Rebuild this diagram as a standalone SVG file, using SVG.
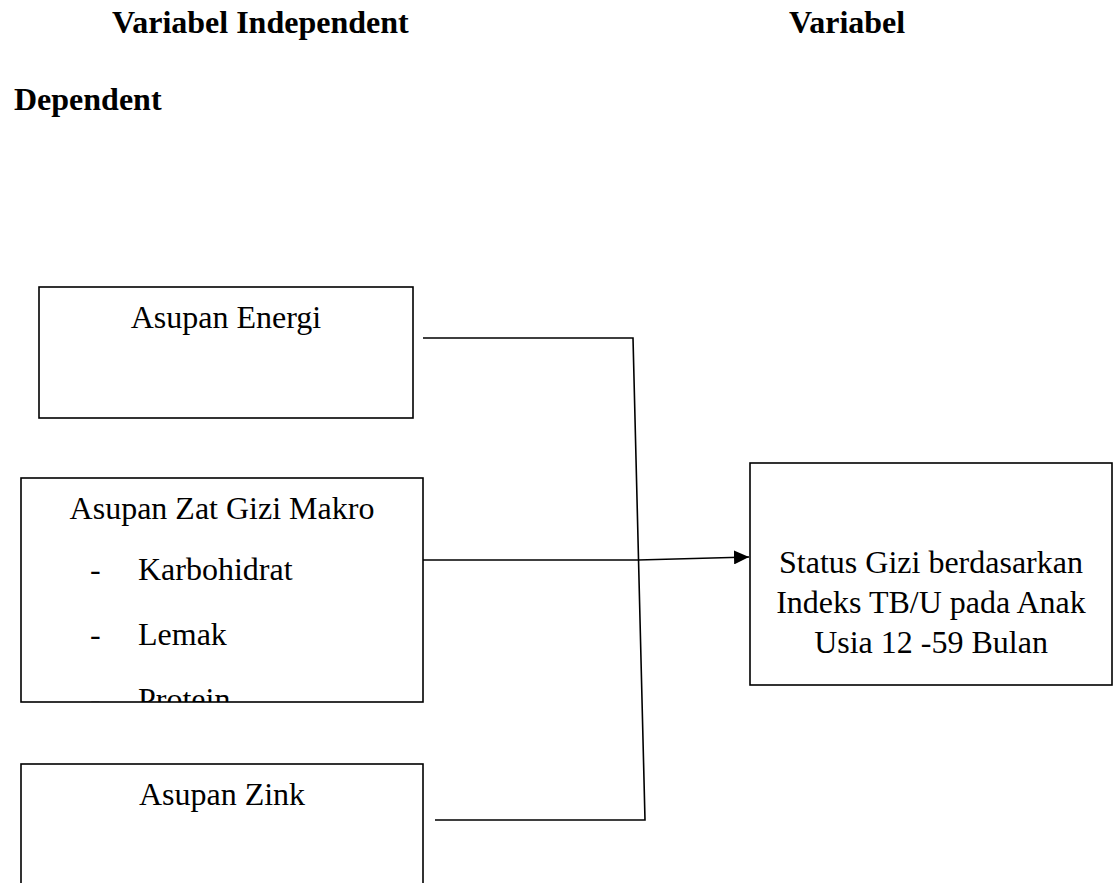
<svg xmlns="http://www.w3.org/2000/svg" width="1117" height="883" viewBox="0 0 1117 883">
<style>
text{font-family:"Liberation Serif","Times New Roman",serif;font-size:32px;fill:#000}
.h{font-weight:bold}
.box{fill:#fff;stroke:#000;stroke-width:1.6}
.ln{fill:none;stroke:#000;stroke-width:1.6}
</style>
<defs>
<marker id="arr" markerWidth="15" markerHeight="14" refX="15" refY="7" orient="auto" markerUnits="userSpaceOnUse">
<path d="M0,0 L15,7 L0,14 Z" fill="#000"/>
</marker>
<clipPath id="c2"><rect x="21" y="478" width="402" height="224"/></clipPath>
</defs>
<rect width="1117" height="883" fill="#fff"/>
<g id="headers">
<text class="h" x="112" y="33">Variabel Independent</text>
<text class="h" x="789" y="33">Variabel</text>
<text class="h" x="14" y="110">Dependent</text>
</g>
<g id="connectors">
<polyline class="ln" points="423,338 633,338 645,820 435,820"/>
<line class="ln" x1="423" y1="560" x2="638" y2="560"/>
<line class="ln" x1="638" y1="560" x2="749" y2="557" stroke-width="2.2" marker-end="url(#arr)"/>
</g>
<g id="n-energi">
<rect class="box" x="39" y="287" width="374" height="131"/>
<text x="226" y="328" text-anchor="middle">Asupan Energi</text>
</g>
<g id="n-makro">
<rect class="box" x="21" y="478" width="402" height="224"/>
<g clip-path="url(#c2)">
<text x="222" y="519" text-anchor="middle">Asupan Zat Gizi Makro</text>
<text x="90" y="580">-</text><text x="138" y="580">Karbohidrat</text>
<text x="90" y="645">-</text><text x="138" y="645">Lemak</text>
<text x="90" y="710">-</text><text x="138" y="710">Protein</text>
</g>
</g>
<g id="n-zink">
<rect class="box" x="21" y="764" width="402" height="130"/>
<text x="222" y="805" text-anchor="middle">Asupan Zink</text>
</g>
<g id="n-status">
<rect class="box" x="750" y="463" width="362" height="222"/>
<text x="931" y="573" text-anchor="middle">Status Gizi berdasarkan</text>
<text x="931" y="613" text-anchor="middle">Indeks TB/U pada Anak</text>
<text x="931" y="653" text-anchor="middle">Usia 12 -59 Bulan</text>
</g>
</svg>
